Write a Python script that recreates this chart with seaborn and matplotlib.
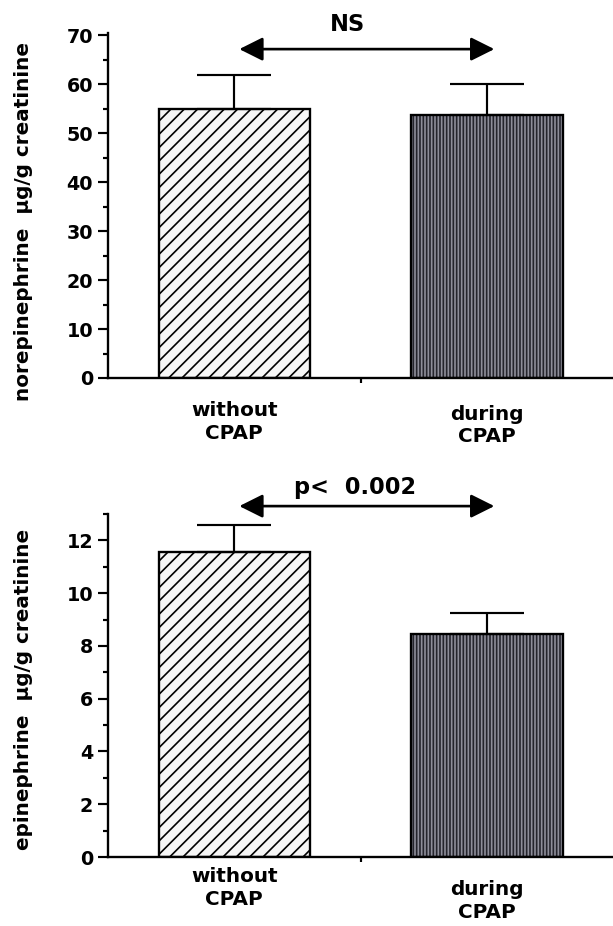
import matplotlib
matplotlib.use("Agg")
import matplotlib.pyplot as plt
from matplotlib.ticker import MultipleLocator, FixedLocator
import numpy as np
import pandas as pd
import seaborn as sns

# values (mean + SEM)
groups = ["without\nCPAP", "during\nCPAP"]
norepi_mean = [55.0, 53.7]
norepi_sem = [7.0, 6.3]
epi_mean = [11.55, 8.45]
epi_sem = [1.05, 0.80]

sns.set_style("ticks")
plt.rcParams["font.family"] = ["DejaVu Sans"]
plt.rcParams["font.weight"] = "bold"
plt.rcParams["hatch.linewidth"] = 1.0
for k in ("text.color", "axes.labelcolor", "xtick.color", "ytick.color",
          "axes.edgecolor"):
    plt.rcParams[k] = "black"

DPI = 120
fig = plt.figure(figsize=(613 / DPI, 926 / DPI), dpi=DPI)
ax_top = fig.add_axes([0.1762, 0.5918, 0.8238, 0.3726])
ax_bot = fig.add_axes([0.1762, 0.0745, 0.8238, 0.3704])


def draw_panel(ax, mean, sem, ylabel, ymax, major, minor, label_y, pads):
    df = pd.DataFrame({"group": groups, "value": mean})
    # fill layer
    sns.barplot(data=df, x="group", y="value", ax=ax, width=0.6,
                errorbar=None, color="white")
    fill = list(ax.patches)
    fill[0].set_facecolor("#f6f6f6")
    fill[0].set_edgecolor("black")
    fill[0].set_linewidth(0)
    fill[0].set_hatch("///")
    fill[1].set_facecolor("#24242c")
    fill[1].set_edgecolor("#8e8e9a")
    fill[1].set_linewidth(0)
    fill[1].set_hatch("||||||")
    # outline layer
    sns.barplot(data=df, x="group", y="value", ax=ax, width=0.6,
                errorbar=None, color="white")
    for p in ax.patches[len(fill):]:
        p.set_facecolor("none")
        p.set_edgecolor("black")
        p.set_linewidth(1.4)
        p.set_hatch(None)

    # one-sided error bars
    ax.errorbar(np.arange(len(groups)), mean,
                yerr=[np.zeros(len(sem)), sem], fmt="none",
                ecolor="black", elinewidth=1.3, capsize=22, capthick=1.3,
                zorder=1)

    ax.set_xlim(-0.5, 1.5)
    ax.set_ylim(0, ymax)
    ax.yaxis.set_major_locator(MultipleLocator(major))
    ax.yaxis.set_minor_locator(MultipleLocator(minor))
    ax.xaxis.set_minor_locator(FixedLocator([0.5]))
    ax.tick_params(axis="y", which="major", direction="out", length=6,
                   width=1.3, pad=3, labelsize=11.5)
    ax.tick_params(axis="y", which="minor", direction="out", length=3,
                   width=1.3)
    ax.tick_params(axis="x", which="major", length=0, labelsize=12)
    ax.tick_params(axis="x", which="minor", direction="out", length=3,
                   width=1.3)
    ax.set_xticks(range(len(groups)))
    ax.set_xticklabels(groups, fontweight="bold", linespacing=1.25)
    for t, pd_ in zip(ax.xaxis.get_major_ticks(), pads):
        t.set_pad(pd_)
    for lab in ax.get_yticklabels():
        lab.set_fontweight("bold")

    ax.set_xlabel("")
    ax.set_ylabel(ylabel, fontsize=12, fontweight="bold")
    ax.yaxis.set_label_coords(-0.148, label_y)

    sns.despine(ax=ax)
    for s in ("left", "bottom"):
        ax.spines[s].set_linewidth(1.4)


draw_panel(ax_top, norepi_mean, norepi_sem,
           "norepinephrine  \u00b5g/g creatinine", 70.5, 10, 5, 0.455,
           [14, 16])
draw_panel(ax_bot, epi_mean, epi_sem,
           "epinephrine  \u00b5g/g creatinine", 13, 2, 1, 0.49,
           [6, 14])

arrow = dict(arrowstyle="<|-|>,head_length=0.6,head_width=0.3",
             color="black", lw=1.6, mutation_scale=20,
             shrinkA=0, shrinkB=0)

ax_top.annotate("", xy=(1.03, 67.2), xytext=(0.02, 67.2),
                arrowprops=arrow, annotation_clip=False)
ax_top.text(0.45, 72.3, "NS", ha="center", va="center", fontsize=13.5,
            fontweight="bold", clip_on=False)

ax_bot.annotate("", xy=(1.03, 13.3), xytext=(0.02, 13.3),
                arrowprops=arrow, annotation_clip=False)
ax_bot.text(0.48, 14.0, "p<  0.002", ha="center", va="center",
            fontsize=13.5, fontweight="bold", clip_on=False)

fig.savefig("out.png", dpi=DPI)
